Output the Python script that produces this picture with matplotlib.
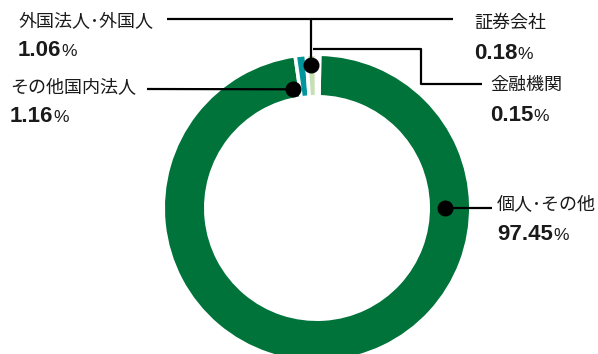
import numpy as np
import matplotlib.pyplot as plt

# shareholder distribution (%)
labels = ['個人･その他', 'その他国内法人', '外国法人･外国人', '証券会社', '金融機関']
shares = [97.45, 1.16, 1.06, 0.18, 0.15]
share_text = ['97.45', '1.16', '1.06', '0.18', '0.15']
colors = ['#00733a', '#00969b', '#c5e0b4', '#e2efda', '#e2efda']

W, H = 598, 354
CX, CY = 317, 208
R_OUT, R_IN = 152, 113
EDGE = 3.6  # white separator width, px


def ring_point(theta_deg, r):
    # theta measured clockwise from 12 o'clock, y grows downward
    t = np.deg2rad(theta_deg)
    return CX + r * np.sin(t), CY - r * np.cos(t)


def run_shareholder_donut():
    fig = plt.figure(figsize=(W / 100, H / 100), dpi=100)
    ax = fig.add_axes([0, 0, 1, 1])

    # y axis is inverted below, so counterclock=True draws clockwise on screen
    ax.pie(shares, colors=colors, startangle=-89, counterclock=True,
           center=(CX, CY), radius=R_OUT + EDGE / 2,
           wedgeprops=dict(width=R_OUT - R_IN + EDGE, edgecolor='white',
                           linewidth=EDGE * 0.72))
    ax.set_xlim(0, W)
    ax.set_ylim(H, 0)
    ax.set_aspect('equal')
    ax.axis('off')

    # dots on the ring: (angle, radius)
    dots = {
        '個人･その他': ring_point(90, 128),
        'その他国内法人': ring_point(-11.2, 121),
        '外国法人･外国人': ring_point(-2.6, 143),
    }
    for p in dots.values():
        ax.plot(p[0], p[1], 'o', color='black', markersize=10.5, zorder=5)

    lk = dict(color='black', lw=1.6, zorder=4, solid_capstyle='butt')
    d = dots['外国法人･外国人']
    ax.plot([167, 453], [19, 19], **lk)
    ax.plot([d[0], d[0]], [19, d[1]], **lk)
    ax.plot([313, 421, 421, 482], [49, 49, 84, 84], **lk)
    d = dots['その他国内法人']
    ax.plot([147, d[0]], [89, d[1]], **lk)
    d = dots['個人･その他']
    ax.plot([d[0], 492], [d[1], d[1]], **lk)

    # label anchors: (x, y of name centre, baseline of value)
    anchors = {
        '外国法人･外国人': (18, 21, 56),
        'その他国内法人': (10, 87, 122),
        '証券会社': (474, 23, 59),
        '金融機関': (490, 85, 121),
        '個人･その他': (497, 204, 240),
    }
    cjk = ['Noto Sans CJK JP', 'DejaVu Sans']
    fig.canvas.draw()
    renderer = fig.canvas.get_renderer()
    inv = ax.transData.inverted()
    for name, val in zip(labels, share_text):
        x, y1, y2 = anchors[name]
        ax.text(x, y1, name, family=cjk, fontsize=13, color='#1a1a1a',
                ha='left', va='center')
        t = ax.text(x, y2, val, family='Liberation Sans', fontweight='bold',
                    fontsize=16, color='#1a1a1a', ha='left', va='baseline')
        bb = t.get_window_extent(renderer)
        xe = inv.transform((bb.x1, bb.y0))[0]
        ax.text(xe + 0.5, y2, '%', family='Liberation Sans', fontsize=12.5,
                color='#1a1a1a', ha='left', va='baseline')

    plt.savefig('out.png', dpi=100)


if __name__ == '__main__':
    run_shareholder_donut()
